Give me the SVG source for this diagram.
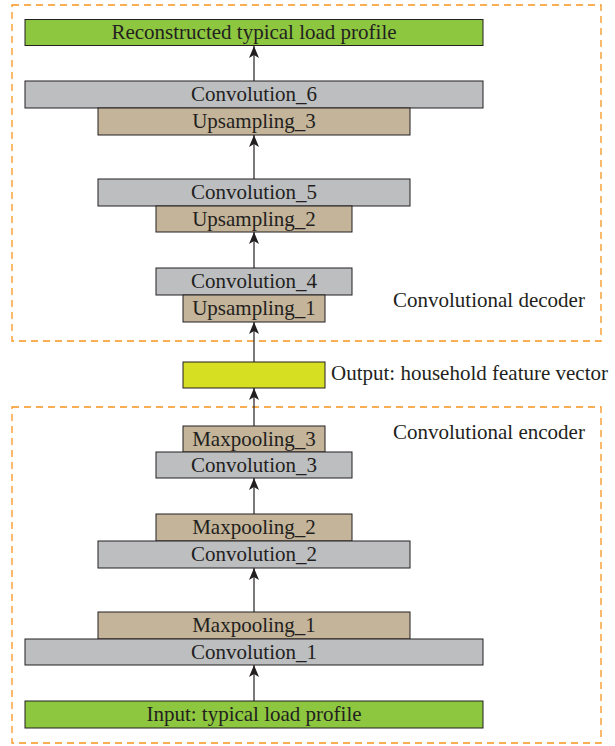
<svg xmlns="http://www.w3.org/2000/svg" width="615" height="746" viewBox="0 0 615 746">
<defs>
<marker id="ah" markerWidth="12" markerHeight="10" refX="12" refY="5" orient="auto" markerUnits="userSpaceOnUse" viewBox="0 0 12 10">
<path d="M0,0 L12,5 L0,10 L3,5 Z" fill="#231f20"/>
</marker>
</defs>
<style>
text{font-family:"Liberation Serif","Times New Roman",serif;font-size:21px;fill:#231f20}
.c{text-anchor:middle}
rect{stroke:#231f20;stroke-width:1}
.green{fill:#8dc63f}
.gray{fill:#bcbec0}
.tan{fill:#c4b49a}
.yel{fill:#d7df23}
.dash{fill:none;stroke:#f7941d;stroke-width:1.3;stroke-dasharray:7 5}
.arr{stroke:#231f20;stroke-width:1.2;fill:none;marker-end:url(#ah)}
</style>
<rect id="decoder-box" class="dash" x="12" y="5" width="589" height="336"/>
<rect id="encoder-box" class="dash" x="12" y="407" width="589" height="336"/>
<g id="connectors">
<line class="arr" x1="254" y1="81" x2="254" y2="46"/>
<line class="arr" x1="254" y1="179" x2="254" y2="135"/>
<line class="arr" x1="254" y1="268" x2="254" y2="232"/>
<line class="arr" x1="254" y1="362" x2="254" y2="322"/>
<line class="arr" x1="254" y1="426" x2="254" y2="388"/>
<line class="arr" x1="254" y1="514" x2="254" y2="478"/>
<line class="arr" x1="254" y1="612" x2="254" y2="568"/>
<line class="arr" x1="254" y1="701" x2="254" y2="665"/>
</g>
<g id="reconstructed"><rect class="green" x="25" y="19.5" width="458" height="26"/><text class="c" x="254" y="39">Reconstructed typical load profile</text></g>
<g id="conv6"><rect class="gray" x="25" y="81" width="458" height="27"/><text class="c" x="254" y="101">Convolution_6</text></g>
<g id="ups3"><rect class="tan" x="98" y="108" width="312" height="27"/><text class="c" x="254" y="128">Upsampling_3</text></g>
<g id="conv5"><rect class="gray" x="98" y="179" width="312" height="27"/><text class="c" x="254" y="199">Convolution_5</text></g>
<g id="ups2"><rect class="tan" x="156" y="206" width="196" height="26"/><text class="c" x="254" y="226">Upsampling_2</text></g>
<g id="conv4"><rect class="gray" x="156" y="268" width="196" height="27"/><text class="c" x="254" y="288">Convolution_4</text></g>
<g id="ups1"><rect class="tan" x="183" y="295" width="142" height="27"/><text class="c" x="254" y="315">Upsampling_1</text></g>
<g id="decoder-label"><text x="393" y="307">Convolutional decoder</text></g>
<g id="feature"><rect class="yel" x="183" y="362" width="142" height="26"/><text x="331" y="380">Output: household feature vector</text></g>
<g id="encoder-label"><text x="393" y="439">Convolutional encoder</text></g>
<g id="pool3"><rect class="tan" x="183" y="426" width="142" height="26"/><text class="c" x="254" y="446">Maxpooling_3</text></g>
<g id="conv3"><rect class="gray" x="156" y="452" width="196" height="26"/><text class="c" x="254" y="472">Convolution_3</text></g>
<g id="pool2"><rect class="tan" x="156" y="514" width="196" height="27"/><text class="c" x="254" y="534">Maxpooling_2</text></g>
<g id="conv2"><rect class="gray" x="98" y="541" width="312" height="27"/><text class="c" x="254" y="561">Convolution_2</text></g>
<g id="pool1"><rect class="tan" x="98" y="612" width="312" height="27"/><text class="c" x="254" y="632">Maxpooling_1</text></g>
<g id="conv1"><rect class="gray" x="25" y="639" width="458" height="26"/><text class="c" x="254" y="659">Convolution_1</text></g>
<g id="input"><rect class="green" x="25" y="701" width="458" height="27"/><text class="c" x="254" y="721">Input: typical load profile</text></g>
</svg>
